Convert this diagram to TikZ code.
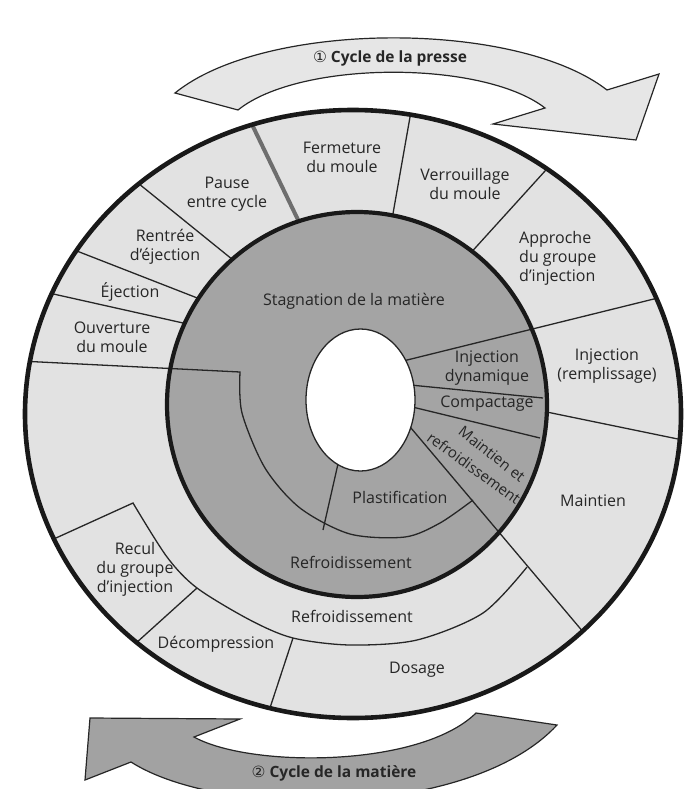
\documentclass[tikz,border=0pt]{standalone}
\usepackage{fontspec}
\setmainfont{Open Sans}
\newfontfamily\circfont{DejaVu Sans}
\definecolor{ringlight}{HTML}{E2E2E2}
\definecolor{ringdark}{HTML}{A4A4A4}
\definecolor{arrowlight}{HTML}{E6E6E6}
\definecolor{arrowdark}{HTML}{A2A2A2}
\definecolor{ink}{HTML}{262626}
\definecolor{graysep}{HTML}{6E6E6E}
\tikzset{
  sepline/.style={draw=ink, line width=1.3pt, line join=miter},
  thickring/.style={draw=black!90, line width=4.2pt},
  lbl/.style={text=ink, font=\fontsize{16}{19}\selectfont, align=center, inner sep=0pt},
  rotlbl/.style={text=ink, font=\fontsize{15}{18}\selectfont, inner sep=0pt},
  arrowlbl/.style={text=ink, font=\fontsize{15.5}{19}\selectfont\bfseries, inner sep=0pt},
  arrowtop/.style={draw=ink, line width=1.2pt, fill=arrowlight, line join=miter},
  arrowbot/.style={draw=ink, line width=1.2pt, fill=arrowdark, line join=miter}
}
\begin{document}
\begin{tikzpicture}[x=1pt,y=-1pt]
\useasboundingbox (0,0) rectangle (685,789);
% ---- top arrow: Cycle de la presse
\draw[arrowtop] (175,93) .. controls (265,20) and (517,20) .. (607,90)
  -- (659,74) -- (636,140) -- (493,124) -- (545,108)
  .. controls (483,60) and (300,60) .. (238,110) -- cycle;
\node[arrowlbl] (presse) at (390,58) {{\circfont\mdseries ①} Cycle de la presse};
% ---- bottom arrow: Cycle de la matiere
\draw[arrowbot] (557,725) .. controls (470,819) and (220,819) .. (131,762)
  -- (85,780) -- (90,718) -- (240,719) -- (194,737)
  .. controls (250,768) and (420,768) .. (476,713) -- cycle;
\node[arrowlbl] (matiere) at (334,773) {{\circfont\mdseries ②} Cycle de la matière};
% ---- outer ring
\fill[ringlight] (353,414) ellipse [x radius=328, y radius=304];
\begin{scope}
  \clip (353,414) ellipse [x radius=328, y radius=304];
  \draw[sepline] (192,325) -- (40,291);
  \draw[sepline] (205,301) -- (64,246);
  \draw[sepline] (238,264) -- (128,175);
  \draw[sepline] (391,225) -- (413,100);
  \draw[sepline] (467,257) -- (555,160);
  \draw[sepline] (537,410) -- (690,441.5);
  \draw[draw=graysep, line width=4pt] (301,226) -- (245,110);
  \draw[sepline] (45,543) -- (133,503) -- plot[smooth] coordinates
    {(133,503) (167,557) (197,588) (250,620) (293,638) (350,645) (417,640) (483,613) (527,567)};
  \draw[sepline] (197,588) -- (125,653);
  \draw[sepline] (293,638) -- (265,723);
\end{scope}
% ---- dark ring
\fill[ringdark] (357,404.5) ellipse [x radius=190, y radius=192.5];
\begin{scope}
  \clip (353,414) ellipse [x radius=328, y radius=304];
  \draw[sepline] (20,361) -- (240,372) -- plot[smooth] coordinates
    {(240,372) (242,413) (265,468) (300,508) (350,534) (405,537) (440,523) (473,500)};
  \draw[sepline] (397,362.5) -- (670,295);
  \draw[sepline] (400,415) -- (595,646);
  \draw[sepline] (400,384) -- (543,398);
  \draw[sepline] (400,404) -- (540,438);
  \draw[sepline] (340,455) -- (323,530);
\end{scope}
% ---- central hole
\filldraw[fill=white, draw=ink, line width=1.3pt] (360.5,400) ellipse [x radius=54.5, y radius=71];
% ---- thick rings
\draw[thickring] (357,404.5) ellipse [x radius=190, y radius=192.5];
\draw[thickring, line width=4.6pt] (353,414) ellipse [x radius=328, y radius=304];
% ---- labels outer ring
\node[lbl] (fermeture) at (342,157) {Fermeture\\du moule};
\node[lbl] (verrou) at (465,184) {Verrouillage\\du moule};
\node[lbl] (pause) at (227,194) {Pause\\entre cycle};
\node[lbl] (rentree) at (165,247) {Rentrée\\d’éjection};
\node[lbl] (ejection) at (130,292) {Éjection};
\node[lbl] (ouverture) at (112,337) {Ouverture\\du moule};
\node[lbl, anchor=west, align=left] (approche) at (519,258) {Approche\\du groupe\\d’injection};
\node[lbl] (injrem) at (607,366) {Injection\\(remplissage)};
\node[lbl] (maintien) at (593,501) {Maintien};
\node[lbl] (refroidout) at (352,616) {Refroidissement};
\node[lbl] (decomp) at (216,644) {Décompression};
\node[lbl] (dosage) at (417,670) {Dosage};
\node[lbl] (recul) at (135,569) {Recul\\du groupe\\d’injection};
% ---- labels dark ring
\node[lbl] (stagnation) at (354,301) {Stagnation de la matière};
\node[lbl] (injdyn) at (487,368) {Injection\\dynamique};
\node[lbl] (compactage) at (487,404) {Compactage};
\node[rotlbl, rotate=-38] (maintenl) at (492,454) {Maintien et};
\node[rotlbl, rotate=-36] (refroidl) at (474,468) {refroidissement};
\node[lbl] (plastif) at (400,497) {Plastification};
\node[lbl] (refroidin) at (351,562) {Refroidissement};
\end{tikzpicture}
\end{document}
